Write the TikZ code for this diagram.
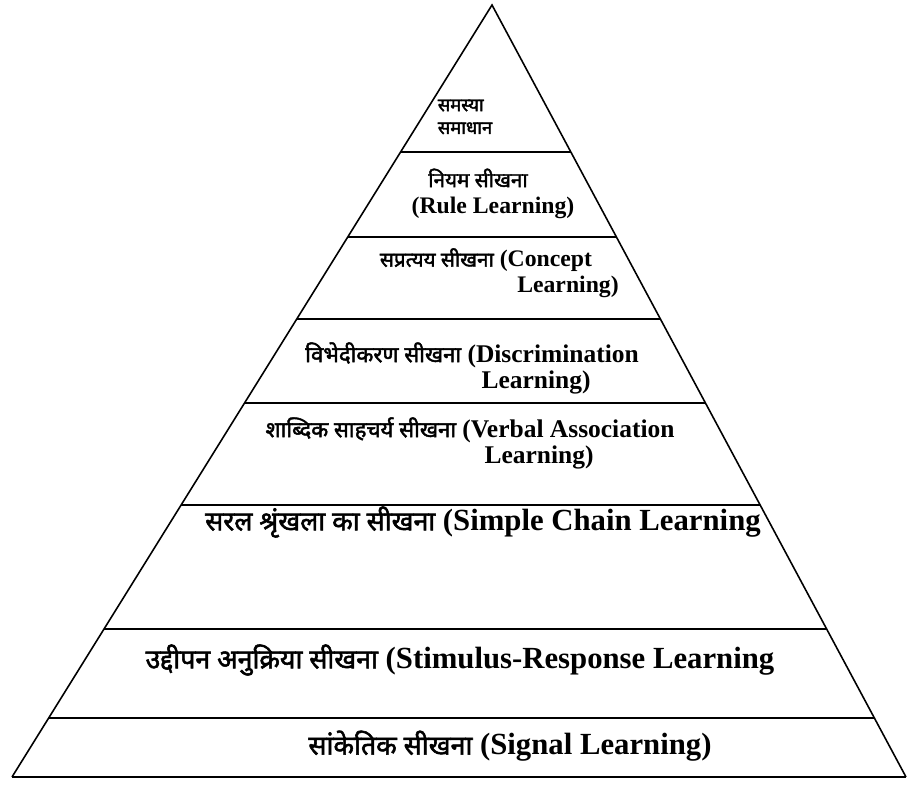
\documentclass[tikz,border=0pt]{standalone}
\usepackage{fontspec}
\setmainfont{Liberation Serif}
\newfontfamily\devfont[Script=Devanagari, Scale=0.87, AutoFakeBold=2]{Noto Sans}
\usetikzlibrary{calc}
\tikzset{
    sideline/.style={line width=0.9pt},
    tierline/.style={line width=1.2pt},
    tiny/.style={font=\bfseries\fontsize{12}{13}\selectfont, inner sep=0pt, align=left},
    upper/.style={font=\bfseries\fontsize{13.5}{16}\selectfont, inner sep=0pt},
    middle/.style={font=\bfseries\fontsize{14.5}{17}\selectfont, inner sep=0pt},
    lower/.style={font=\bfseries\fontsize{17.5}{21}\selectfont, inner sep=0pt}
}

\begin{document}
\begin{tikzpicture}[x=0.02cm,y=-0.02cm]
\useasboundingbox (0,0) rectangle (909,786);

% outline
\coordinate (apex) at (492,5);
\coordinate (bl) at (12,777);
\coordinate (br) at (906,777);
\draw[sideline] (bl) -- (apex) -- (br);
\draw[tierline] (bl) -- (br);

% tiers
\draw[tierline] ($(apex)!0.1904!(bl)$) -- ($(apex)!0.1904!(br)$);
\draw[tierline] ($(apex)!0.3005!(bl)$) -- ($(apex)!0.3005!(br)$);
\draw[tierline] ($(apex)!0.4067!(bl)$) -- ($(apex)!0.4067!(br)$);
\draw[tierline] ($(apex)!0.5155!(bl)$) -- ($(apex)!0.5155!(br)$);
\draw[tierline] ($(apex)!0.6477!(bl)$) -- ($(apex)!0.6477!(br)$);
\draw[tierline] ($(apex)!0.8083!(bl)$) -- ($(apex)!0.8083!(br)$);
\draw[tierline] ($(apex)!0.9236!(bl)$) -- ($(apex)!0.9236!(br)$);

% texts
\node[tiny] (problem) at (465,117) {\devfont समस्या\\\devfont समाधान};
\node[upper] (rule) at (478,178) {\devfont नियम सीखना};
\node[upper] (ruleen) at (493,208) {(Rule Learning)};
\node[upper] (concept) at (486,260) {{\devfont सप्रत्यय सीखना} (Concept};
\node[upper] (concepten) at (568,287) {Learning)};
\node[middle] (discr) at (472,355) {{\devfont विभेदीकरण सीखना} (Discrimination};
\node[middle] (discren) at (536,382) {Learning)};
\node[middle] (verbal) at (470,430) {{\devfont शाब्दिक साहचर्य सीखना} (Verbal Association};
\node[middle] (verbalen) at (539,457) {Learning)};
\node[lower] (chain) at (483,522) {{\devfont सरल श्रृंखला का सीखना} (Simple Chain Learning};
\node[lower] (stimulus) at (460,660) {{\devfont उद्दीपन अनुक्रिया सीखना} (Stimulus-Response Learning};
\node[lower] (signal) at (510,746) {{\devfont सांकेतिक सीखना} (Signal Learning)};

\end{tikzpicture}
\end{document}
